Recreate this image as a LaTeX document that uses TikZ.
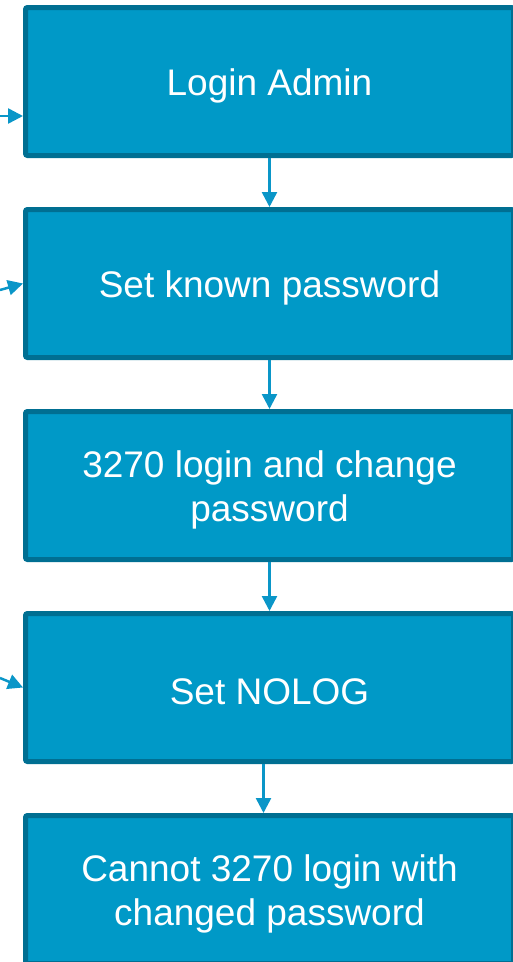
\documentclass[tikz,border=0pt]{standalone}
\usepackage{fontspec}
\setmainfont{Liberation Sans}
\usetikzlibrary{arrows.meta}
\definecolor{boxfill}{RGB}{0,153,199}
\definecolor{boxline}{RGB}{0,111,146}
\definecolor{arrcol}{RGB}{10,150,200}
\tikzset{
  stepbox/.style={draw=boxline, fill=boxfill, line width=5pt, rounded corners=2pt,
    minimum width=488pt, minimum height=148pt, inner sep=0pt},
  steptext/.style={text=white, align=center, inner sep=0pt, font=\fontsize{37}{44}\selectfont},
  arr/.style={draw=arrcol, line width=2.5pt, -{Triangle[length=15pt,width=15pt]}}
}
\begin{document}
\begin{tikzpicture}[x=1pt,y=-1pt]
\useasboundingbox (0,0) rectangle (513,962);
\begin{scope}
\clip (0,0) rectangle (513,962);
\node[stepbox] (b1) at (269.5,81.5) {};
\node[stepbox] (b2) at (269.5,283.5) {};
\node[stepbox] (b3) at (269.5,485.5) {};
\node[stepbox] (b4) at (269.5,687.5) {};
\node[stepbox] (b5) at (269.5,889.5) {};
\node[steptext] (t1) at ([yshift=-4pt]b1.center) {Login Admin};
\node[steptext] (t2) at ([yshift=-4pt]b2.center) {Set known password};
\node[steptext] (t3) at ([yshift=-4pt]b3.center) {3270 login and change\\password};
\node[steptext] (t4) at ([yshift=-4pt]b4.center) {Set NOLOG};
\node[steptext] (t5) at ([yshift=-4pt]b5.center) {Cannot 3270 login with\\changed password};
\coordinate (l1) at (0,116);
\coordinate (l2) at (0,290);
\coordinate (l4) at (0,678);
\draw[arr] (l1) -- (l1 -| b1.west);
\draw[arr] (l2) -- (b2.west);
\draw[arr] (l4) -- (b4.west);
\draw[arr] (b1.south) -- (b2.north);
\draw[arr] (b2.south) -- (b3.north);
\draw[arr] (b3.south) -- (b4.north);
\draw[arr] ([xshift=-6pt]b4.south) -- ([xshift=-6pt]b5.north);
\end{scope}
\end{tikzpicture}
\end{document}
